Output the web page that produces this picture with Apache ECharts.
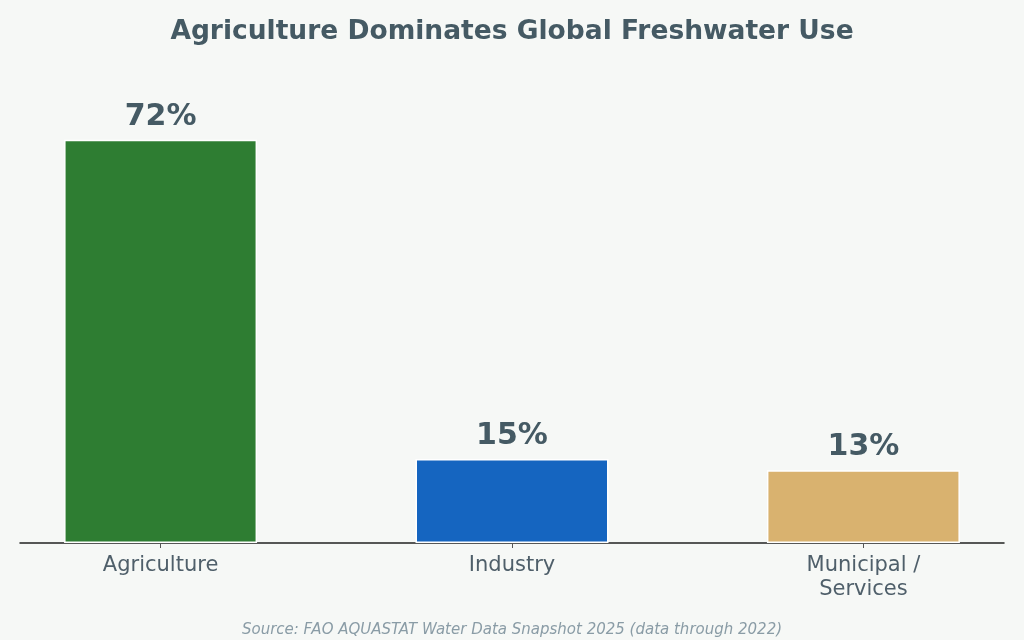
<!DOCTYPE html>
<html>
<head>
<meta charset="utf-8">
<script src="https://cdn.jsdelivr.net/npm/echarts@6/dist/echarts.min.js"></script>
<style>
html,body{margin:0;padding:0;background:#f6f8f6;}
#chart{width:1024px;height:640px;}
</style>
</head>
<body>
<div id="chart"></div>
<script>
const categories = ['Agriculture', 'Industry', 'Municipal /\nServices'];
const shares = [72, 15, 13];
const barColors = ['#2e7d32', '#1565c0', '#d9b26f'];
const positions = [0, 1, 2];

const chart = echarts.init(document.getElementById('chart'));
const font = 'DejaVu Sans';
chart.setOption({
  backgroundColor: '#f6f8f6',
  animation: false,
  title: [
    {
      text: 'Agriculture Dominates Global Freshwater Use',
      left: 'center', top: 14,
      textStyle: { fontFamily: font, fontSize: 26.5, fontWeight: 'bold', color: '#455a64' }
    },
    {
      text: 'Source: FAO AQUASTAT Water Data Snapshot 2025 (data through 2022)',
      left: 'center', top: 618,
      textStyle: { fontFamily: font, fontSize: 15, fontStyle: 'italic', fontWeight: 'normal', color: '#8a9ca6' }
    }
  ],
  grid: { left: 20, right: 20, top: 95, bottom: 97 },
  xAxis: {
    type: 'value', min: -0.4, max: 2.4,
    splitLine: { show: false },
    axisLine: { show: true, onZero: false, lineStyle: { color: '#222', width: 1.5 } },
    axisTick: { show: true, customValues: positions, length: 5, lineStyle: { color: '#555', width: 1 } },
    axisLabel: {
      customValues: positions,
      formatter: v => categories[Math.round(v)],
      fontFamily: font, fontSize: 21, color: '#4f5f6a', margin: 11, lineHeight: 24
    }
  },
  yAxis: {
    type: 'value', min: 0, max: 80, show: false, splitLine: { show: false }
  },
  series: [{
    type: 'bar',
    barWidth: 193,
    data: positions.map((p, i) => ({
      value: [p, shares[i]],
      itemStyle: { color: barColors[i], borderColor: '#ffffff', borderWidth: 1.5 }
    })),
    label: {
      show: true, position: 'top', distance: 8,
      formatter: p => p.value[1] + '%',
      fontFamily: font, fontSize: 30, fontWeight: 'bold', color: '#455a64'
    }
  }]
});
</script>
</body>
</html>
